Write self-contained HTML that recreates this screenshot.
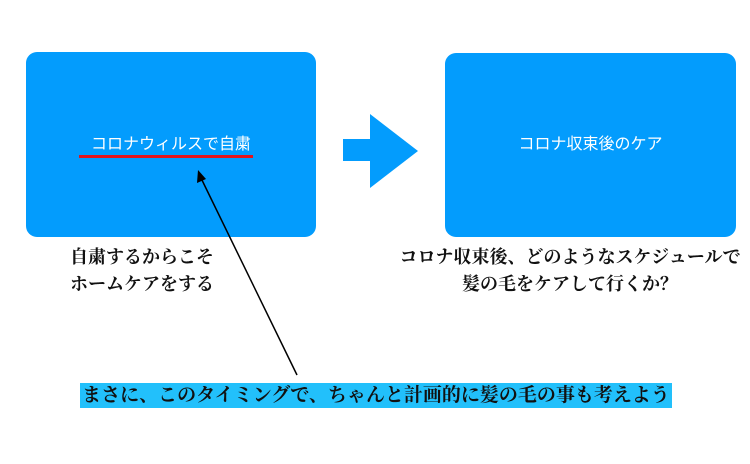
<!DOCTYPE html>
<html><head><meta charset="utf-8"><style>
body{margin:0;width:750px;height:464px;background:#fff;position:relative;overflow:hidden;font-family:"Liberation Serif","Noto Serif CJK SC",serif}
.box{position:absolute;background:#039cfd;border-radius:11px}
.bt{position:absolute;color:#fff;font-family:"Liberation Sans","Noto Sans CJK JP",sans-serif;font-size:16px;white-space:nowrap;text-align:center}
.t{position:absolute;font-weight:bold;font-size:18px;white-space:nowrap;color:#111;line-height:27px}
</style></head><body>
<div class="box" style="left:26px;top:52px;width:290px;height:185px"></div>
<div class="box" style="left:445px;top:53px;width:291px;height:184px"></div>
<div class="bt" style="left:26px;width:290px;top:130px">コロナウィルスで自粛</div>
<div class="bt" style="left:445px;width:291px;top:130px">コロナ収束後のケア</div>
<div style="position:absolute;left:79px;top:155px;width:174px;height:3px;background:#e4141c"></div>
<svg style="position:absolute;left:0;top:0" width="750" height="464">
<polygon points="343,139 370,139 370,114 418,151 370,188 370,161 343,161" fill="#039cfd"/>
<line x1="297" y1="375" x2="200" y2="176" stroke="#000" stroke-width="1.5"/>
<polygon points="198,170 197,183 206,179" fill="#000"/>
</svg>
<div class="t" style="left:70px;top:244px">自粛するからこそ<br>ホームケアをする</div>
<div class="t" style="left:390px;width:360px;top:244px;text-align:center">コロナ収束後、どのようなスケジュールで<br>髪の毛をケアして行くか？</div>
<div style="position:absolute;left:80px;top:383px;width:592px;height:25px;background:#22c0fb"></div>
<div class="t" style="left:80px;width:592px;top:382px;text-align:center;font-size:19px">まさに、このタイミングで、ちゃんと計画的に髪の毛の事も考えよう</div>
</body></html>
